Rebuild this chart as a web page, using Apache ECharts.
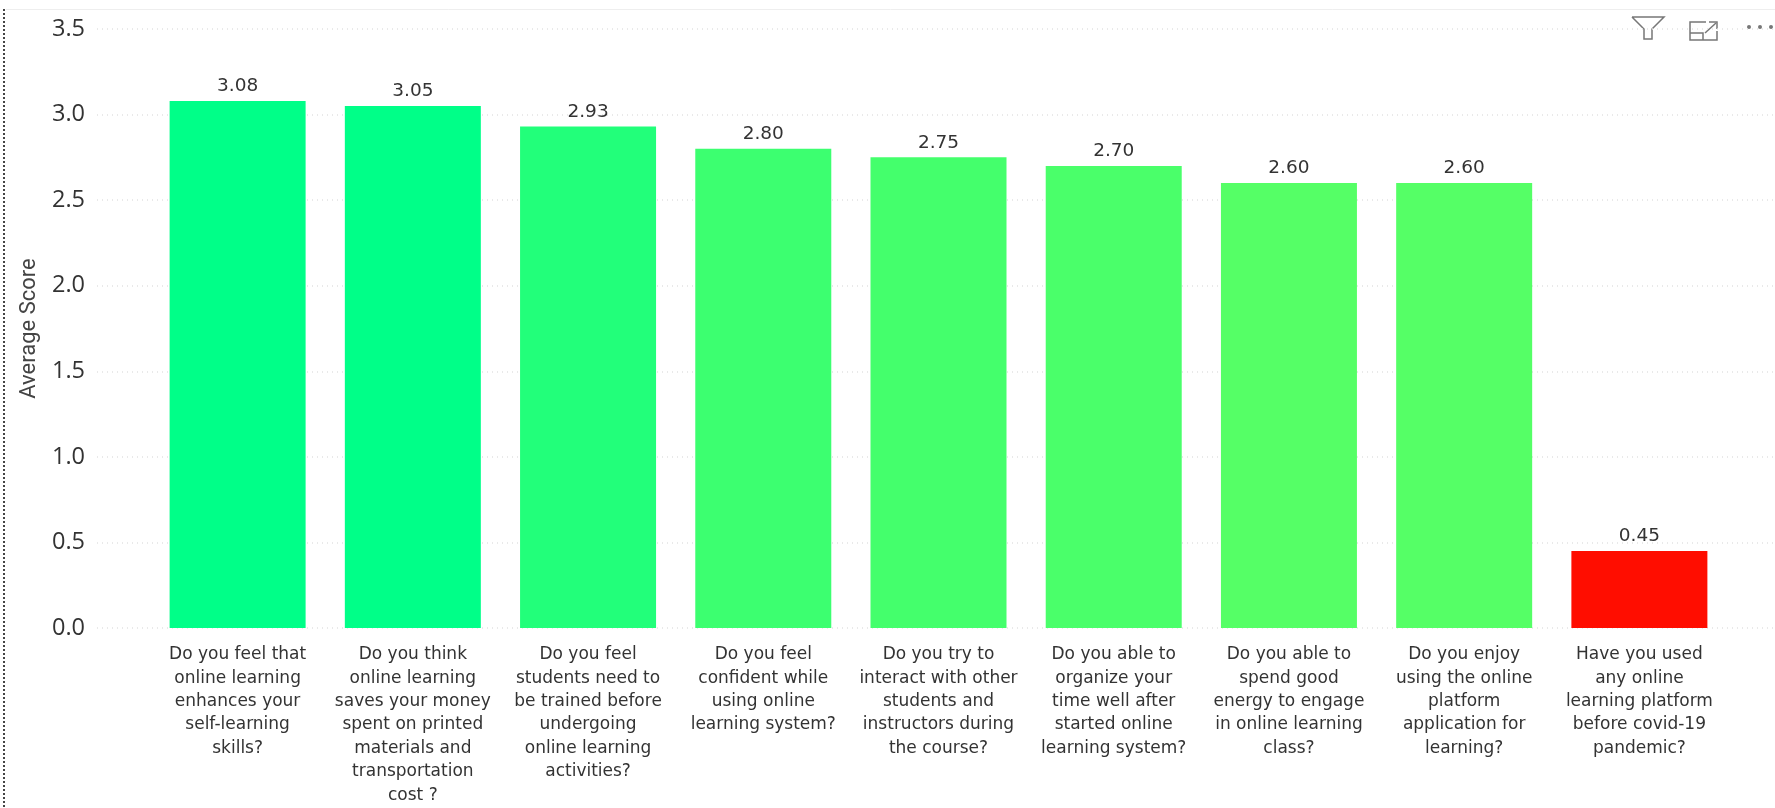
<!DOCTYPE html>
<html><head><meta charset="utf-8">
<style>html,body{margin:0;padding:0;background:#fff}#c{width:1775px;height:808px}</style>
<script src="https://cdn.jsdelivr.net/npm/echarts@6/dist/echarts.min.js"></script>
</head><body><div id="c"></div>
<script>
const categories = [
 "Do you feel that\nonline learning\nenhances your\nself-learning\nskills?",
 "Do you think\nonline learning\nsaves your money\nspent on printed\nmaterials and\ntransportation\ncost ?",
 "Do you feel\nstudents need to\nbe trained before\nundergoing\nonline learning\nactivities?",
 "Do you feel\nconfident while\nusing online\nlearning system?",
 "Do you try to\ninteract with other\nstudents and\ninstructors during\nthe course?",
 "Do you able to\norganize your\ntime well after\nstarted online\nlearning system?",
 "Do you able to\nspend good\nenergy to engage\nin online learning\nclass?",
 "Do you enjoy\nusing the online\nplatform\napplication for\nlearning?",
 "Have you used\nany online\nlearning platform\nbefore covid-19\npandemic?"
];
const scores = [3.08,3.05,2.93,2.80,2.75,2.70,2.60,2.60,0.45];
const barColors = ["#00FF88","#00FF88","#22FF7A","#3CFF70","#44FF6C","#4AFF6A","#55FF66","#55FF66","#FF0D00"];
const yMax = 3.5, yStep = 0.5;
const wideFont = '"DejaVu Sans",sans-serif';
const font = '"Open Sans","Noto Sans",sans-serif';
const chart = echarts.init(document.getElementById('c'));
chart.setOption({
 animation:false,
 backgroundColor:'#fff',
 grid:[
  {left:97,right:0,top:29,height:599},
  {left:150,right:48,top:29,height:599}
 ],
 xAxis:[
  {gridIndex:0,type:'category',data:[''],show:false},
  {gridIndex:1,type:'category',data:categories,
   axisLine:{show:false},axisTick:{show:false},
   axisLabel:{interval:0,color:'#333',fontFamily:wideFont,fontSize:17,lineHeight:23.4,margin:15,align:'center',verticalAlign:'top'}}
 ],
 yAxis:[
  {gridIndex:0,type:'value',min:0,max:yMax,interval:yStep,
   name:'Average Score',nameLocation:'middle',nameRotate:90,nameGap:57,
   nameTextStyle:{fontFamily:'"Roboto","Noto Sans",sans-serif',fontSize:22,color:'#444'},
   axisLine:{show:false},axisTick:{show:false},
   axisLabel:{color:'#333',fontFamily:font,fontSize:23.5,margin:12,formatter:v=>v.toFixed(1)},
   splitLine:{show:true,lineStyle:{color:'#e2e2e2',type:[1,4],width:1.5}}},
  {gridIndex:1,type:'value',min:0,max:yMax,interval:yStep,show:false,splitLine:{show:false}}
 ],
 series:[{
  type:'bar',xAxisIndex:1,yAxisIndex:1,
  data:scores.map((v,i)=>({value:v,itemStyle:{color:barColors[i]}})),
  barWidth:136,
  label:{show:true,position:'top',distance:5,color:'#333',fontFamily:wideFont,fontSize:18.5,formatter:p=>p.value.toFixed(2)}
 }],
 graphic:[
  {type:'line',shape:{x1:4,y1:9,x2:4,y2:808},style:{stroke:'#444',lineWidth:2,lineDash:[2,2]}},
  {type:'line',shape:{x1:6,y1:9.5,x2:1775,y2:9.5},style:{stroke:'#eeeeee',lineWidth:1}},
  {type:'polyline',shape:{points:[[1632,17],[1664,17],[1652,29],[1652,39],[1644,39],[1644,29],[1632,17]]},style:{stroke:'#777',fill:'none',lineWidth:1.5}},
  {type:'polyline',shape:{points:[[1706,22],[1690,22],[1690,40],[1717,40],[1717,31]]},style:{stroke:'#777',fill:'none',lineWidth:1.5}},
  {type:'polyline',shape:{points:[[1690,33],[1703,33],[1703,40]]},style:{stroke:'#777',fill:'none',lineWidth:1.5}},
  {type:'polyline',shape:{points:[[1705,33],[1716,23]]},style:{stroke:'#777',fill:'none',lineWidth:1.5}},
  {type:'polyline',shape:{points:[[1709,22],[1717,22],[1717,29]]},style:{stroke:'#777',fill:'none',lineWidth:1.5}},
  {type:'circle',shape:{cx:1749,cy:27,r:2},style:{fill:'#777'}},
  {type:'circle',shape:{cx:1760,cy:27,r:2},style:{fill:'#777'}},
  {type:'circle',shape:{cx:1771,cy:27,r:2},style:{fill:'#777'}}
 ]
});
</script></body></html>
